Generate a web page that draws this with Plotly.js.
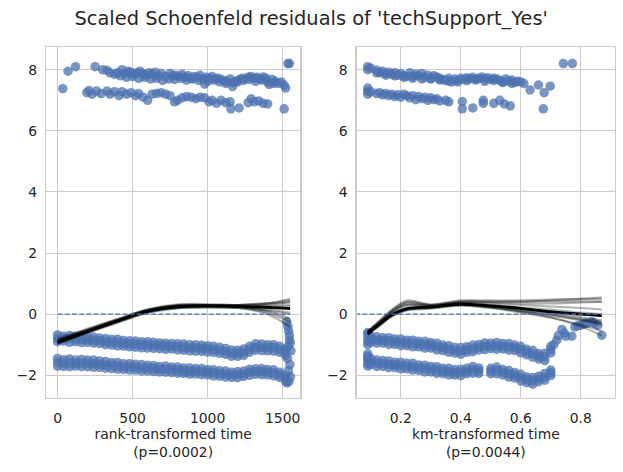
<!DOCTYPE html>
<html>
<head>
<meta charset="utf-8">
<script src="https://cdn.plot.ly/plotly-3.0.1.min.js"></script>
<style>html,body{margin:0;padding:0;background:#fff;}#chart{width:623px;height:472px;}</style>
</head>
<body>
<div id="chart"></div>
<script>
// ---------- DATA ----------
var titleText = "Scaled Schoenfeld residuals of 'techSupport_Yes'";
var leftXLabel = "rank-transformed time<br>(p=0.0002)";
var rightXLabel = "km-transformed time<br>(p=0.0044)";

// Left panel: rank-transformed time
var LX = [0,40,80,120,160,200,240,280,320,360,400,440,480,520,560,600,640,680,720,760,800,840,880,920,960,1000,1040,1080,1120,1160,1200,1240,1280,1320,1360,1400,1440,1480,1520];
var LA_hi = [-0.68,-0.72,-0.7,-0.72,-0.7,-0.74,-0.75,-0.78,-0.8,-0.82,-0.82,-0.86,-0.87,-0.88,-0.9,-0.9,-0.92,-0.94,-0.95,-0.96,-0.97,-0.98,-1.0,-1.0,-1.02,-1.03,-1.05,-1.08,-1.12,-1.17,-1.18,-1.14,-1.05,-0.97,-0.98,-1.0,-1.0,-1.05,-1.15];
var LA_mid = [-0.8,-0.8,-0.8,-0.82,-0.82,-0.83,-0.85,-0.87,-0.9,-0.92,-0.93,-0.95,-0.97,-0.98,-1.0,-1.0,-1.02,-1.03,-1.05,-1.05,-1.07,-1.08,-1.1,-1.1,-1.12,-1.13,-1.15,-1.18,-1.22,-1.28,-1.28,-1.25,-1.15,-1.08,-1.08,-1.1,-1.1,-1.15,-1.25];
var LA_lo = [-0.9,-0.88,-0.92,-0.9,-0.93,-0.92,-0.95,-0.96,-1.0,-1.01,-1.04,-1.05,-1.07,-1.08,-1.1,-1.11,-1.12,-1.13,-1.15,-1.14,-1.17,-1.18,-1.2,-1.21,-1.22,-1.24,-1.25,-1.28,-1.32,-1.38,-1.38,-1.35,-1.25,-1.18,-1.19,-1.2,-1.21,-1.25,-1.35];
var LB_hi = [-1.45,-1.49,-1.47,-1.5,-1.48,-1.5,-1.5,-1.53,-1.55,-1.58,-1.58,-1.62,-1.62,-1.64,-1.65,-1.67,-1.68,-1.71,-1.7,-1.73,-1.73,-1.76,-1.76,-1.78,-1.78,-1.81,-1.82,-1.85,-1.86,-1.9,-1.88,-1.86,-1.8,-1.79,-1.78,-1.81,-1.82,-1.9,-2.02];
var LB_mid = [-1.58,-1.6,-1.6,-1.6,-1.6,-1.61,-1.62,-1.64,-1.66,-1.68,-1.7,-1.72,-1.73,-1.74,-1.76,-1.77,-1.78,-1.8,-1.8,-1.82,-1.83,-1.85,-1.86,-1.87,-1.88,-1.9,-1.92,-1.94,-1.96,-1.98,-1.98,-1.95,-1.9,-1.88,-1.88,-1.9,-1.92,-1.98,-2.1];
var LB_lo = [-1.7,-1.71,-1.72,-1.7,-1.72,-1.72,-1.74,-1.74,-1.77,-1.78,-1.8,-1.81,-1.83,-1.83,-1.86,-1.86,-1.88,-1.89,-1.9,-1.91,-1.93,-1.94,-1.96,-1.96,-1.98,-1.99,-2.02,-2.03,-2.06,-2.07,-2.08,-2.04,-2.0,-1.97,-1.98,-1.99,-2.02,-2.07,-2.2];
var LEX = [1528,1535,1540,1545,1550,1555,1532,1548,1538,1552,1542,1530,1546,1536];
var LEY = [-0.25,-0.4,-0.55,-0.7,-0.95,-1.2,-1.45,-1.65,-1.85,-2.05,-2.2,-2.25,-0.85,-1.05];
var LTopAX = [70,120,250,300,330,350,380,400,430,450,470,490,510,530,550,570,590,610,630,650,670,690,700,720,750,770,790,810,830,850,870,890,910,930,950,970,980,990,1010,1030,1050,1070,1090,1110,1130,1150,1166,1170,1190,1210,1230,1250,1270,1290,1310,1330,1350,1370,1390,1410,1430,1450,1470,1490,1510,1520,1535,1545];
var LTopAY = [7.95,8.1,8.1,8.0,7.98,7.9,7.85,7.9,8.0,7.88,7.95,7.92,7.85,7.9,7.95,7.88,7.82,7.9,7.85,7.92,7.8,7.88,7.65,7.78,7.88,7.8,7.82,7.78,7.85,7.75,7.8,7.72,7.78,7.75,7.82,7.7,7.53,7.75,7.72,7.78,7.7,7.72,7.68,7.65,7.6,7.7,7.45,7.58,7.62,7.68,7.72,7.7,7.75,7.78,7.72,7.75,7.7,7.76,7.72,7.52,7.68,7.62,7.55,7.6,7.5,7.4,8.2,8.2];
var LTopCX = [420,460,500,540,580,620,660,740,780,820,860,900,940,1000,1040,1080,1120,1200,1240,1280,1320,1360,1400,1440];
var LTopCY = [7.8,7.75,7.78,7.72,7.75,7.7,7.72,7.7,7.68,7.72,7.66,7.7,7.65,7.62,7.66,7.6,7.55,7.6,7.65,7.68,7.62,7.66,7.6,7.55];
var LTopBX = [35,195,210,230,260,290,330,350,380,410,430,460,490,520,540,570,600,630,660,690,720,750,780,800,830,860,890,920,950,980,1010,1030,1060,1090,1120,1150,1155,1210,1270,1290,1310,1340,1370,1400,1510];
var LTopBY = [7.38,7.25,7.32,7.2,7.3,7.22,7.3,7.2,7.28,7.15,7.28,7.2,7.25,7.15,7.22,7.1,7.0,7.2,7.22,7.25,7.2,7.15,6.95,7.0,7.08,7.12,7.1,7.05,7.1,7.08,6.95,7.0,6.9,7.0,6.92,6.95,6.72,6.75,6.92,7.05,6.95,6.98,6.9,6.88,6.72];
var LLineX = [0,200,400,600,800,1000,1200,1400,1550];
var LMain = [-0.92,-0.56,-0.22,0.1,0.24,0.27,0.25,0.22,0.18];
var LBoot = [
  [-0.85,-0.5,-0.17,0.14,0.3,0.3,0.3,0.35,0.5],
  [-0.9,-0.55,-0.2,0.12,0.27,0.28,0.27,0.3,0.4],
  [-0.95,-0.6,-0.26,0.06,0.2,0.22,0.2,0.05,-0.25],
  [-0.8,-0.47,-0.15,0.16,0.32,0.33,0.3,0.35,0.45],
  [-0.92,-0.57,-0.23,0.09,0.23,0.26,0.25,0.15,0.05],
  [-0.98,-0.62,-0.28,0.04,0.19,0.22,0.2,0.0,-0.42],
  [-0.87,-0.52,-0.19,0.13,0.28,0.3,0.3,0.28,0.3],
  [-0.94,-0.59,-0.25,0.07,0.22,0.25,0.24,0.1,-0.15],
  [-0.88,-0.53,-0.2,0.12,0.27,0.29,0.3,0.36,0.38],
  [-0.9,-0.56,-0.22,0.1,0.25,0.27,0.25,0.2,0.2],
  [-0.96,-0.6,-0.26,0.06,0.21,0.24,0.22,0.12,0.0],
  [-0.86,-0.51,-0.18,0.14,0.29,0.3,0.28,0.25,0.25]
];
var LZeroX = [0,1550];

// Right panel: km-transformed time
var RX = [0.09,0.10,0.12,0.14,0.16,0.18,0.20,0.22,0.24,0.26,0.28,0.30,0.32,0.34,0.36,0.38,0.40,0.42,0.44,0.46,0.48,0.50,0.52,0.54,0.56,0.58,0.60,0.62,0.64,0.66,0.68,0.70];
var RA_hi = [-0.65,-0.72,-0.74,-0.77,-0.77,-0.81,-0.81,-0.85,-0.85,-0.89,-0.89,-0.93,-0.95,-1.01,-1.03,-1.09,-1.09,-1.07,-1.01,-0.99,-0.94,-0.95,-0.93,-0.96,-0.96,-1.01,-1.05,-1.15,-1.19,-1.29,-1.28,-1.05];
var RA_mid = [-0.78,-0.82,-0.85,-0.86,-0.88,-0.9,-0.92,-0.94,-0.96,-0.98,-1.0,-1.02,-1.06,-1.1,-1.14,-1.18,-1.2,-1.16,-1.12,-1.08,-1.05,-1.04,-1.04,-1.05,-1.07,-1.1,-1.16,-1.24,-1.3,-1.38,-1.4,-1.16];
var RA_lo = [-0.9,-0.92,-0.95,-0.95,-0.99,-0.99,-1.03,-1.03,-1.07,-1.07,-1.11,-1.11,-1.17,-1.19,-1.25,-1.27,-1.31,-1.25,-1.23,-1.17,-1.16,-1.13,-1.15,-1.14,-1.18,-1.19,-1.27,-1.33,-1.41,-1.47,-1.52,-1.27];
var RB_hi = [-1.38,-1.45,-1.5,-1.52,-1.53,-1.57,-1.57,-1.61,-1.61,-1.66,-1.67,-1.71,-1.72,-1.77,-1.77,-1.81,-1.8,-1.77,-1.71,-1.76,null,-1.77,-1.73,-1.81,-1.84,-1.91,-1.97,-2.06,-2.07,-2.03,-1.94,-1.83];
var RB_mid = [-1.5,-1.55,-1.6,-1.62,-1.64,-1.66,-1.68,-1.7,-1.72,-1.75,-1.78,-1.8,-1.83,-1.86,-1.88,-1.9,-1.9,-1.86,-1.82,-1.85,null,-1.86,-1.84,-1.9,-1.95,-2.0,-2.08,-2.15,-2.18,-2.12,-2.05,-1.92];
var RB_lo = [-1.62,-1.65,-1.71,-1.71,-1.75,-1.75,-1.79,-1.79,-1.83,-1.84,-1.89,-1.89,-1.94,-1.95,-1.99,-1.99,-2.01,-1.95,-1.93,-1.94,null,-1.95,-1.95,-1.99,-2.06,-2.09,-2.19,-2.24,-2.29,-2.21,-2.16,-2.01];
var RTX = [0.09,0.09,0.09,0.09,0.09,0.71,0.72,0.725,0.737,0.745,0.75,0.77,0.78,0.79,0.80,0.81,0.82,0.837,0.845,0.857,0.87];
var RTY = [-0.6,-1.0,-1.3,-1.45,-1.7,-1.0,-0.85,-0.7,-0.5,-0.62,-0.72,-0.72,-0.42,-0.38,-0.36,-0.33,-0.3,-0.25,-0.3,-0.36,-0.69];
var RTopAX = [0.09,0.09,0.10,0.12,0.13,0.14,0.15,0.16,0.17,0.18,0.19,0.20,0.21,0.22,0.23,0.24,0.25,0.26,0.27,0.28,0.29,0.30,0.31,0.32,0.33,0.34,0.35,0.36,0.37,0.38,0.39,0.40,0.41,0.42,0.43,0.44,0.45,0.46,0.47,0.48,0.49,0.50,0.51,0.52,0.53,0.54,0.55,0.56,0.57,0.58,0.59,0.60,0.61,0.631,0.659,0.678,0.698,0.742,0.772];
var RTopAY = [8.1,8.0,8.05,7.98,7.9,7.95,7.88,7.92,7.85,7.9,7.82,7.88,7.8,7.78,7.9,7.72,7.85,7.8,7.88,7.75,7.82,7.7,7.8,7.76,7.72,7.68,7.65,7.72,7.6,7.7,7.65,7.72,7.68,7.74,7.7,7.75,7.7,7.72,7.76,7.7,7.74,7.68,7.72,7.7,7.65,7.6,7.7,7.62,7.66,7.58,7.62,7.6,7.55,7.34,7.5,7.25,7.46,8.2,8.2];
var RTopCX = [0.12,0.15,0.18,0.21,0.24,0.27,0.30,0.33,0.36,0.39,0.42,0.45,0.48,0.51,0.54,0.57];
var RTopCY = [7.9,7.82,7.8,7.75,7.78,7.7,7.72,7.66,7.62,7.6,7.64,7.66,7.62,7.65,7.58,7.55];
var RTopBX = [0.09,0.09,0.09,0.10,0.12,0.13,0.14,0.15,0.16,0.17,0.18,0.19,0.20,0.21,0.22,0.23,0.24,0.25,0.26,0.27,0.28,0.29,0.30,0.31,0.32,0.33,0.35,0.36,0.405,0.405,0.44,0.475,0.475,0.51,0.53,0.545,0.565,0.675];
var RTopBY = [7.4,7.3,7.2,7.28,7.22,7.25,7.18,7.22,7.15,7.2,7.12,7.18,7.1,7.2,7.15,7.08,7.15,7.02,7.12,7.05,7.1,7.0,7.08,7.02,7.05,6.98,7.0,6.95,6.96,6.72,6.75,7.0,6.9,6.9,7.0,6.88,6.82,6.72];
var RLineX = [0.09,0.13,0.17,0.22,0.3,0.4,0.5,0.6,0.7,0.8,0.87];
var RMain = [-0.63,-0.32,-0.02,0.17,0.24,0.33,0.27,0.19,0.08,0.0,-0.05];
var RBoot = [
  [-0.55,-0.2,0.15,0.45,0.32,0.45,0.45,0.45,0.48,0.5,0.5],
  [-0.6,-0.28,0.05,0.3,0.26,0.38,0.35,0.3,0.25,0.2,0.15],
  [-0.65,-0.35,-0.05,0.15,0.2,0.3,0.22,0.1,-0.05,-0.2,-0.35],
  [-0.58,-0.25,0.1,0.38,0.3,0.42,0.42,0.42,0.42,0.42,0.42],
  [-0.62,-0.3,0.0,0.22,0.24,0.33,0.28,0.18,0.05,-0.1,-0.2],
  [-0.68,-0.38,-0.08,0.12,0.18,0.28,0.2,0.05,-0.12,-0.35,-0.55],
  [-0.57,-0.22,0.12,0.4,0.3,0.4,0.38,0.35,0.35,0.38,0.4],
  [-0.63,-0.32,-0.02,0.2,0.22,0.32,0.25,0.12,-0.02,-0.18,-0.3],
  [-0.6,-0.27,0.06,0.3,0.27,0.36,0.3,0.22,0.15,0.05,0.0],
  [-0.66,-0.36,-0.06,0.14,0.2,0.3,0.22,0.08,-0.1,-0.4,-0.7],
  [-0.59,-0.26,0.08,0.34,0.28,0.4,0.4,0.4,0.45,0.5,0.55],
  [-0.64,-0.33,-0.03,0.18,0.22,0.31,0.24,0.14,0.0,-0.15,-0.25]
];
var RZeroX = [0,0.87];

// ---------- STYLE ----------
var BLUE = '#4c72b0';
var PT = 'rgba(76,114,176,0.75)';
var TXT = '#262626';
var FONT = 'DejaVu Sans, sans-serif';

function pts(x, y, xa, ya) {
  return {x: x, y: y, xaxis: xa, yaxis: ya, type: 'scatter', mode: 'markers',
    marker: {color: PT, size: 9.5, line: {width: 0}}, hoverinfo: 'skip', showlegend: false};
}
function line(x, y, xa, ya, color, width) {
  return {x: x, y: y, xaxis: xa, yaxis: ya, type: 'scatter', mode: 'lines',
    line: {color: color, width: width, shape: 'spline', smoothing: 1}, hoverinfo: 'skip', showlegend: false};
}

var traces = [];
[[LX, LA_hi],[LX, LA_mid],[LX, LA_lo],[LX, LB_hi],[LX, LB_mid],[LX, LB_lo],[LEX, LEY],[LTopAX, LTopAY],[LTopCX, LTopCY],[LTopBX, LTopBY]].forEach(function(p){
  traces.push(pts(p[0], p[1], 'x', 'y'));
});
[[RX, RA_hi],[RX, RA_mid],[RX, RA_lo],[RX, RB_hi],[RX, RB_mid],[RX, RB_lo],[RTX, RTY],[RTopAX, RTopAY],[RTopCX, RTopCY],[RTopBX, RTopBY]].forEach(function(p){
  traces.push(pts(p[0], p[1], 'x2', 'y2'));
});
traces.push(line(LLineX, LMain, 'x', 'y', '#000000', 2.8));
traces.push(line(RLineX, RMain, 'x2', 'y2', '#000000', 2.8));
LBoot.forEach(function(b){ traces.push(line(LLineX, b, 'x', 'y', 'rgba(0,0,0,0.3)', 2.1)); });
RBoot.forEach(function(b){ traces.push(line(RLineX, b, 'x2', 'y2', 'rgba(0,0,0,0.3)', 2.1)); });
traces.push({x: LZeroX, y: [0,0], xaxis: 'x', yaxis: 'y', type: 'scatter', mode: 'lines',
  line: {color: BLUE, width: 1.4, dash: '5px,2.2px'}, hoverinfo: 'skip', showlegend: false});
traces.push({x: RZeroX, y: [0,0], xaxis: 'x2', yaxis: 'y2', type: 'scatter', mode: 'lines',
  line: {color: BLUE, width: 1.4, dash: '5px,2.2px'}, hoverinfo: 'skip', showlegend: false});

var axBase = {
  showgrid: true, gridcolor: '#cccccc', gridwidth: 1, zeroline: false,
  showline: true, mirror: true, linecolor: '#cccccc', linewidth: 1.25,
  ticks: 'outside', tickcolor: 'rgba(0,0,0,0)',
  tickfont: {family: FONT, size: 13.9, color: TXT}
};
function ax(extra) { var o = JSON.parse(JSON.stringify(axBase)); for (var k in extra) o[k] = extra[k]; return o; }

var layout = {
  width: 623, height: 472,
  paper_bgcolor: '#ffffff', plot_bgcolor: '#ffffff',
  margin: {l: 46, r: 8, t: 47, b: 74},
  title: {text: titleText, font: {family: FONT, size: 19.4, color: TXT},
    x: 0.4995, xref: 'container', xanchor: 'center', y: 1 - 18.5/472, yref: 'container', yanchor: 'middle'},
  xaxis: ax({domain: [0, 0.447], range: [-77, 1618], tickvals: [0,500,1000,1500], ticktext: ['0','500','1000','1500'],
    ticklen: 7, title: {text: leftXLabel, font: {family: FONT, size: 13.9, color: TXT}, standoff: 2}, anchor: 'y'}),
  yaxis: ax({domain: [0, 1], range: [-2.744, 8.744], tickvals: [-2,0,2,4,6,8], ticklen: 5, anchor: 'x'}),
  xaxis2: ax({domain: [0.546, 1], range: [0.053, 0.914], tickvals: [0.2,0.4,0.6,0.8], ticktext: ['0.2','0.4','0.6','0.8'],
    ticklen: 7, title: {text: rightXLabel, font: {family: FONT, size: 13.9, color: TXT}, standoff: 2}, anchor: 'y2'}),
  yaxis2: ax({domain: [0, 1], range: [-2.744, 8.744], tickvals: [-2,0,2,4,6,8], ticklen: 5, anchor: 'x2'}),
  showlegend: false
};

Plotly.newPlot('chart', traces, layout, {displayModeBar: false, staticPlot: true});
</script>
</body>
</html>
